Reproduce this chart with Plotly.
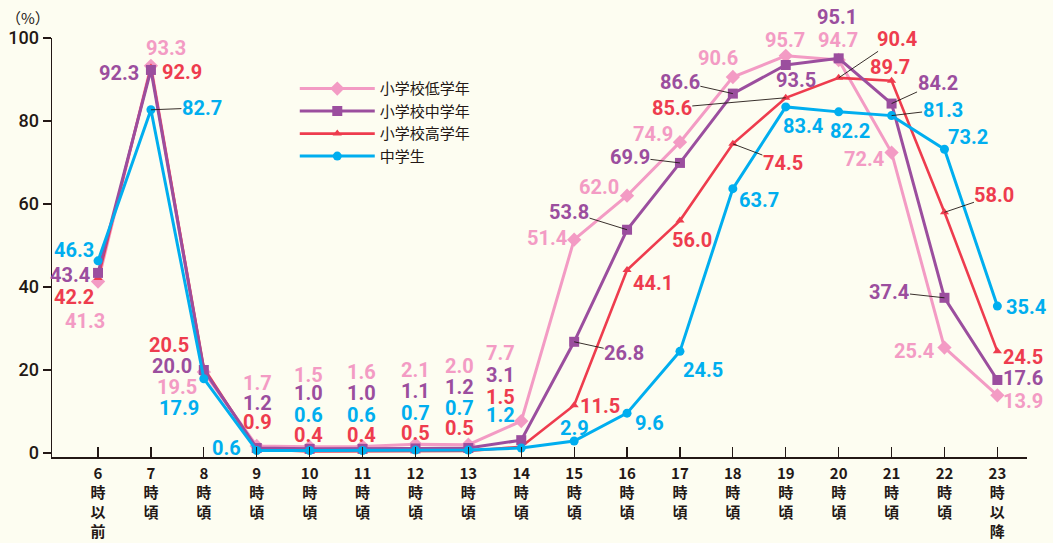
import plotly.graph_objects as go

# ---------------- data ----------------
hours = ["6", "7", "8", "9", "10", "11", "12", "13", "14",
         "15", "16", "17", "18", "19", "20", "21", "22", "23"]
suffixes = ["以<br>前"] + ["頃"] * 16 + ["以<br>降"]

names = ["小学校低学年", "小学校中学年", "小学校高学年", "中学生"]

low_grades = [41.3, 93.3, 19.5, 1.7, 1.5, 1.6, 2.1, 2.0, 7.7,
              51.4, 62.0, 74.9, 90.6, 95.7, 94.7, 72.4, 25.4, 13.9]
mid_grades = [43.4, 92.3, 20.0, 1.2, 1.0, 1.0, 1.1, 1.2, 3.1,
              26.8, 53.8, 69.9, 86.6, 93.5, 95.1, 84.2, 37.4, 17.6]
high_grades = [42.2, 92.9, 20.5, 0.9, 0.4, 0.4, 0.5, 0.5, 1.5,
               11.5, 44.1, 56.0, 74.5, 85.6, 90.4, 89.7, 58.0, 24.5]
junior_high = [46.3, 82.7, 17.9, 0.6, 0.6, 0.6, 0.7, 0.7, 1.2,
               2.9, 9.6, 24.5, 63.7, 83.4, 82.2, 81.3, 73.2, 35.4]

series_values = [low_grades, mid_grades, high_grades, junior_high]

# ---------------- styles ----------------
colors = ["#F39BC4", "#9B4E9E", "#EE3C4E", "#00AEEF"]
symbols = ["diamond", "square", "triangle-up", "circle"]
msizes = [11, 10, 8, 9]
lwidths = [3, 3, 2.6, 3]
legend_rank = [1, 2, 3, 4]
draw_order = [0, 2, 1, 3]

# label pixel offsets (dx, dy) from each point, and whether a leader line is drawn
label_offsets = [
    # low grades (pink)
    [(-13, 39), (15, -18), (-27, 15), (1, -63), (-1, -72), (-1, -74), (0, -74), (-9, -79), (-21, -68),
     (-27, -2), (-28, -9), (-27, -8), (-15, -19), (-1, -16), (-1, -20), (-28, 6), (-30, 3), (26, 6)],
    # mid grades (purple)
    [(-28, 2), (-32, 3), (-32, -4), (1, -45), (-1, -56), (-1, -56), (0, -57), (-9, -61), (-21, -65),
     (50, 11), (-58, -18), (-50, -6), (-53, -12), (10, 15), (-2, -41), (46, -21), (-55, -6), (26, -2)],
    # high grades (red)
    [(-24, 19), (31, 5), (-35, -23), (1, -27), (-1, -16), (-1, -16), (0, -18), (-9, -23), (-21, -50),
     (26, 1), (26, 13), (12, 19), (50, 19), (-114, 10), (58, -39), (-2, -14), (50, -17), (26, 6)],
    # junior high (blue)
    [(-24, -11), (51, -2), (-25, 29), (-30, -3), (-1, -36), (-1, -36), (0, -37), (-9, -42), (-21, -33),
     (0, -13), (22, 10), (23, 19), (26, 11), (17, 19), (11, 19), (51, -6), (24, -12), (29, 1)],
]
leaders = [
    set(),
    {9, 10, 11, 12, 15, 16},
    {12, 13, 14, 16},
    {1, 15},
]

ink = "#231815"
bg = "#FDFDF1"
x_idx = list(range(len(hours)))

fig = go.Figure()
for s in draw_order:
    fig.add_trace(go.Scatter(
        x=x_idx, y=series_values[s], name=names[s], mode="lines+markers",
        line=dict(color=colors[s], width=lwidths[s]),
        marker=dict(symbol=symbols[s], size=msizes[s], color=colors[s]),
        legendrank=legend_rank[s], hoverinfo="skip",
    ))

annotations = []
for s in range(4):
    for i, v in enumerate(series_values[s]):
        dx, dy = label_offsets[s][i]
        lead = i in leaders[s]
        annotations.append(dict(
            x=i, y=v, xref="x", yref="y", text=f"{v:.1f}",
            showarrow=True, ax=dx, ay=dy, axref="pixel", ayref="pixel",
            arrowhead=0, arrowwidth=0.9, standoff=0, borderpad=0,
            arrowcolor=ink if lead else "rgba(0,0,0,0)",
            font=dict(family="Roboto, Noto Sans", size=20, color=colors[s], weight="bold"),
        ))

annotations.append(dict(
    x=-0.025, y=1.05, xref="paper", yref="paper", text="（%）", showarrow=False,
    font=dict(family="Noto Sans CJK JP", size=15, color=ink), xanchor="center", yanchor="middle",
))

ticktext = [f"{h}<br>時<br>{sfx}" for h, sfx in zip(hours, suffixes)]

fig.update_layout(
    width=1053, height=543,
    margin=dict(l=52, r=26, t=38, b=86),
    paper_bgcolor=bg, plot_bgcolor=bg,
    showlegend=True,
    legend=dict(
        x=0.249, y=0.918, xanchor="left", yanchor="top",
        bgcolor="rgba(0,0,0,0)", tracegroupgap=0, itemwidth=75,
        font=dict(family="Noto Sans CJK JP", size=15, color=ink),
    ),
    xaxis=dict(
        range=[-0.87, 17.56], tickmode="array", tickvals=x_idx, ticktext=ticktext,
        ticks="inside", ticklen=10, tickwidth=1.2, tickcolor=ink,
        showline=True, linecolor=ink, linewidth=1.5, automargin=False,
        showgrid=False, zeroline=False, ticklabelstandoff=2,
        tickfont=dict(family="Noto Sans CJK JP", size=15, color=ink, weight="bold"),
    ),
    yaxis=dict(
        range=[-0.96, 100], tickmode="array", tickvals=[0, 20, 40, 60, 80, 100],
        ticks="outside", ticklen=8, tickwidth=1.2, tickcolor=ink,
        showline=True, linecolor=ink, linewidth=1.5, automargin=False,
        showgrid=False, zeroline=False,
        tickfont=dict(family="Roboto, Noto Sans", size=18, color=ink, weight=500),
    ),
    annotations=annotations,
)

fig.write_html(
    "out.html",
    config={"displayModeBar": False, "staticPlot": True},
    post_script=(
        "document.documentElement.style.margin='0';"
        "document.body.style.margin='0';"
        "document.body.style.overflow='hidden';"
        f"document.body.style.background='{bg}';"
    ),
)
